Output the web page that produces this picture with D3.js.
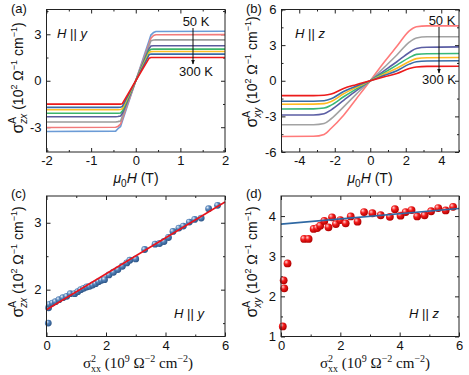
<!DOCTYPE html>
<html>
<head>
<meta charset="utf-8">
<script src="https://cdn.jsdelivr.net/npm/d3@7"></script>
<style>
  body { margin: 0; background: #fff; }
  text { font-family: "Liberation Sans", Arial, sans-serif; fill: #111; }
  .tick text { font-family: "Liberation Sans", Arial, sans-serif; font-size: 13px; fill: #111; }
  .tick line { stroke: #222; }
</style>
</head>
<body>
<div id="chart"></div>
<script>
// ---- data ----
// (a) sigma_zx^A vs mu0H, H || y, 50 K (top) ... 300 K (bottom)
var aField = [-2, -0.45, -0.4, -0.34, -0.3, 0, 0.3, 0.34, 0.4, 0.45, 2];
var aBlue   = [-3.28, -3.25, -3.1, -2.95, -2.6, 0, 2.6, 2.95, 3.12, 3.18, 3.2];
var aPink   = [-3.02, -3.0, -2.95, -2.8, -2.45, 0, 2.4, 2.75, 2.93, 2.97, 2.98];
var aGray   = [-2.66, -2.66, -2.64, -2.6, -2.3, 0, 2.28, 2.58, 2.63, 2.64, 2.64];
var aPurple = [-2.32, -2.32, -2.31, -2.28, -2.1, 0, 2.08, 2.24, 2.26, 2.26, 2.26];
var aGreen  = [-2.1, -2.1, -2.1, -2.08, -1.95, 0, 1.95, 2.03, 2.04, 2.04, 2.04];
var aOrange = [-1.87, -1.87, -1.87, -1.86, -1.8, 0, 1.82, 1.88, 1.89, 1.89, 1.89];
var aSteel  = [-1.72, -1.72, -1.72, -1.71, -1.66, 0, 1.68, 1.72, 1.72, 1.72, 1.72];
var aRed    = [-1.51, -1.51, -1.51, -1.51, -1.48, 0, 1.46, 1.5, 1.5, 1.5, 1.5];
var aCurves = [aBlue, aPink, aGray, aPurple, aGreen, aOrange, aSteel, aRed];
var aColors = ["#6b9bd6", "#f27a7a", "#9c9c9c", "#5b5b9c", "#3cb56a", "#ffbf24", "#3a6ca6", "#ec1b1b"];

// (b) sigma_xy^A vs mu0H, H || z
var bField = [-5, -3.2, -2.6, -2.2, -1.5, -0.8, 0, 0.8, 1.5, 2.2, 2.6, 3.2, 5];
var bPink   = [-4.7, -4.68, -4.52, -4.0, -2.9, -1.55, 0, 1.6, 2.9, 4.2, 4.55, 4.62, 4.62];
var bGray   = [-3.71, -3.7, -3.6, -3.2, -2.2, -1.15, 0, 1.15, 2.17, 3.25, 3.6, 3.7, 3.71];
var bPurple = [-2.89, -2.88, -2.78, -2.45, -1.65, -0.85, 0, 0.85, 1.6, 2.38, 2.72, 2.82, 2.85];
var bGreen  = [-2.38, -2.37, -2.3, -2.05, -1.35, -0.7, 0, 0.7, 1.32, 1.95, 2.22, 2.28, 2.3];
var bOrange = [-1.98, -1.97, -1.93, -1.75, -1.1, -0.57, 0, 0.57, 1.05, 1.62, 1.86, 1.94, 1.96];
var bSteel  = [-1.73, -1.72, -1.68, -1.52, -0.9, -0.46, 0, 0.46, 0.85, 1.4, 1.6, 1.66, 1.68];
var bRed    = [-1.25, -1.25, -1.22, -1.12, -0.65, -0.33, 0, 0.33, 0.62, 1.03, 1.16, 1.21, 1.22];
var bCurves = [bPink, bGray, bPurple, bGreen, bOrange, bSteel, bRed];
var bColors = ["#ff7a7a", "#a3a3a3", "#5b5ea4", "#38b877", "#ffbb22", "#3a6ca6", "#ec1b1b"];

// (c) sigma_zx^A vs sigma_xx^2
var cX = [0.06, 0.07, 0.1, 0.2, 0.3, 0.42, 0.55, 0.68, 0.8, 0.95, 1.05, 1.15, 1.25, 1.35, 1.45, 1.55, 1.65, 1.75, 1.85, 1.95,
          2.1, 2.25, 2.4, 2.55, 2.7, 2.8, 3.0, 3.3, 3.65, 3.8, 3.95, 4.1, 4.25, 4.45, 4.6, 4.8, 4.98, 5.2, 5.45, 5.75];
var cY = [1.5, 1.73, 1.78, 1.8, 1.82, 1.85, 1.88, 1.9, 1.94, 1.94, 1.97, 2.0, 2.02, 2.04, 2.05, 2.07, 2.09, 2.12, 2.14, 2.15,
          2.22, 2.26, 2.3, 2.35, 2.4, 2.44, 2.46, 2.6, 2.68, 2.69, 2.72, 2.78, 2.87, 2.92, 2.95, 3.01, 3.05, 3.07, 3.21, 3.26];
var cFitX = [0, 6], cFitY = [1.7, 3.31];

// (d) sigma_xy^A vs sigma_xx^2
var dX = [0.06, 0.09, 0.11, 0.22, 0.78, 0.93, 1.1, 1.22, 1.32, 1.46, 1.6, 1.72, 1.85, 2.0, 2.18, 2.35, 2.58, 2.8, 3.08, 3.36,
          3.67, 3.84, 4.03, 4.2, 4.4, 4.59, 4.84, 5.06, 5.3, 5.55, 5.8];
var dY = [1.25, 2.4, 2.2, 2.82, 3.43, 3.43, 3.68, 3.7, 3.76, 3.88, 3.72, 3.97, 3.8, 3.9, 3.82, 3.99, 3.86, 4.1, 4.07, 4.02,
          3.98, 4.17, 4.01, 4.1, 4.15, 3.99, 4.02, 4.12, 4.2, 4.14, 4.23];
var dFitX = [0, 6], dFitY = [3.8, 4.19];

// ---- layout ----
var width = 469, height = 375;
var svg = d3.select("#chart").append("svg")
    .attr("width", width)
    .attr("height", height);

var defs = svg.append("defs");
function sphere(id, hi, mid, lo) {
  var g = defs.append("radialGradient").attr("id", id)
      .attr("cx", "40%").attr("cy", "38%").attr("r", "62%").attr("fx", "32%").attr("fy", "30%");
  g.append("stop").attr("offset", "0%").attr("stop-color", hi);
  g.append("stop").attr("offset", "45%").attr("stop-color", mid);
  g.append("stop").attr("offset", "100%").attr("stop-color", lo);
}
sphere("blueBall", "#e4eef8", "#5584bb", "#2c5587");
sphere("redBall", "#ffd2d2", "#f41c1c", "#b00000");

defs.append("marker").attr("id", "arrow")
    .attr("viewBox", "0 0 10 10").attr("refX", 9).attr("refY", 5)
    .attr("markerWidth", 5).attr("markerHeight", 6).attr("orient", "auto")
  .append("path").attr("d", "M0,1L10,5L0,9Z").attr("fill", "#111");

// rich text with sub/superscripts, laid out by measuring each run
function rich(g, parts, base, fam) {
  var x = 0, prevX = 0;
  parts.forEach(function(p) {
    if (typeof p === "string") p = {t: p};
    var sx = p.back ? prevX : x;
    var t = g.append("text")
        .attr("x", sx).attr("y", p.dy || 0)
        .style("font-size", (p.fs || base) + "px")
        .style("font-style", p.it ? "italic" : "normal")
        .text(p.t);
    if (fam) t.style("font-family", fam);
    var w = t.node().getComputedTextLength();
    prevX = sx;
    x = Math.max(x, sx + w);
  });
  return x;
}
function label(parts, cx, cy, base, rotate, fam) {
  var outer = svg.append("g")
      .attr("transform", "translate(" + cx + "," + cy + ")" + (rotate ? " rotate(-90)" : ""));
  var inner = outer.append("g");
  var w = rich(inner, parts, base, fam);
  inner.attr("transform", "translate(" + (-w / 2) + ",0)");
}

function panel(box, xd, yd, xMaj, xMin, yMaj, yMin) {
  var x = d3.scaleLinear().domain(xd).range([box.l, box.r]);
  var y = d3.scaleLinear().domain(yd).range([box.b, box.t]);
  var g = svg.append("g");
  var h = box.b - box.t;
  g.append("g").attr("transform", "translate(0," + box.b + ")")
      .call(d3.axisBottom(x).tickValues(xMaj).tickSize(-4).tickPadding(4).tickFormat(d3.format("d")));
  g.append("g").attr("transform", "translate(0," + box.b + ")")
      .call(d3.axisBottom(x).tickValues(xMin).tickSize(-2).tickFormat(""));
  g.append("g").attr("transform", "translate(0," + box.t + ")")
      .call(d3.axisTop(x).tickValues(xMaj).tickSize(-4).tickFormat(""));
  g.append("g").attr("transform", "translate(0," + box.t + ")")
      .call(d3.axisTop(x).tickValues(xMin).tickSize(-2).tickFormat(""));
  g.append("g").attr("transform", "translate(" + box.l + ",0)")
      .call(d3.axisLeft(y).tickValues(yMaj).tickSize(-4).tickPadding(5).tickFormat(d3.format("d")));
  g.append("g").attr("transform", "translate(" + box.l + ",0)")
      .call(d3.axisLeft(y).tickValues(yMin).tickSize(-2).tickFormat(""));
  g.append("g").attr("transform", "translate(" + box.r + ",0)")
      .call(d3.axisRight(y).tickValues(yMaj).tickSize(-4).tickFormat(""));
  g.append("g").attr("transform", "translate(" + box.r + ",0)")
      .call(d3.axisRight(y).tickValues(yMin).tickSize(-2).tickFormat(""));
  g.selectAll(".domain").remove();
  g.selectAll(".tick text").text(function() { return this.textContent.replace("−", "-"); });
  var plot = svg.append("g");
  svg.append("rect").attr("x", box.l).attr("y", box.t)
      .attr("width", box.r - box.l).attr("height", h)
      .attr("fill", "none").attr("stroke", "#222").attr("stroke-width", 1);
  return {x: x, y: y, g: plot};
}

// ---- (a) ----
var pa = panel({l: 46.5, r: 225, t: 9.5, b: 152}, [-2, 2], [-4.6, 4.6],
    [-2, -1, 0, 1, 2], [-1.5, -0.5, 0.5, 1.5], [-3, 0, 3], [-4.5, -1.5, 1.5, 4.5]);
var lineA = d3.line().x(function(d, i) { return pa.x(aField[i]); }).y(function(d) { return pa.y(d); });
pa.g.selectAll("path").data(aCurves).enter().append("path")
    .attr("d", lineA).attr("fill", "none")
    .attr("stroke", function(d, i) { return aColors[i]; })
    .attr("stroke-width", 1.6);

// ---- (b) ----
var pb = panel({l: 281.5, r: 459, t: 9.5, b: 152}, [-5, 5], [-6, 6],
    [-4, -2, 0, 2, 4], [-5, -3, -1, 1, 3, 5], [-6, -3, 0, 3, 6], [-4.5, -1.5, 1.5, 4.5]);
var lineB = d3.line().curve(d3.curveMonotoneX)
    .x(function(d, i) { return pb.x(bField[i]); }).y(function(d) { return pb.y(d); });
pb.g.selectAll("path").data(bCurves).enter().append("path")
    .attr("d", lineB).attr("fill", "none")
    .attr("stroke", function(d, i) { return bColors[i]; })
    .attr("stroke-width", 1.6);

// ---- (c) ----
var pc = panel({l: 46.5, r: 225, t: 196, b: 336.5}, [0, 6], [1.3, 3.4],
    [0, 2, 4, 6], [1, 3, 5], [2, 3], [1.5, 2.5]);
pc.g.selectAll("circle").data(cX).enter().append("circle")
    .attr("cx", function(d) { return pc.x(d); })
    .attr("cy", function(d, i) { return pc.y(cY[i]); })
    .attr("r", 3.4).attr("fill", "url(#blueBall)");
pc.g.append("line")
    .attr("x1", pc.x(cFitX[0])).attr("y1", pc.y(cFitY[0]))
    .attr("x2", pc.x(cFitX[1])).attr("y2", pc.y(cFitY[1]))
    .attr("stroke", "#e8141c").attr("stroke-width", 1.6);

// ---- (d) ----
var pd = panel({l: 281, r: 459, t: 196, b: 336.5}, [0, 6], [1, 4.5],
    [0, 2, 4, 6], [1, 3, 5], [1, 2, 3, 4], [1.5, 2.5, 3.5]);
pd.g.selectAll("circle").data(dX).enter().append("circle")
    .attr("cx", function(d) { return pd.x(d); })
    .attr("cy", function(d, i) { return pd.y(dY[i]); })
    .attr("r", 3.9).attr("fill", "url(#redBall)");
pd.g.append("line")
    .attr("x1", pd.x(dFitX[0])).attr("y1", pd.y(dFitY[0]))
    .attr("x2", pd.x(dFitX[1])).attr("y2", pd.y(dFitY[1]))
    .attr("stroke", "#2f68a3").attr("stroke-width", 1.6);

// ---- panel letters ----
[["(a)", 11, 13], ["(b)", 246, 13], ["(c)", 11, 198], ["(d)", 246, 198]].forEach(function(p) {
  svg.append("text").attr("x", p[1]).attr("y", p[2]).style("font-size", "13px").text(p[0]);
});

// ---- field direction notes ----
label([{t: "H", it: true}, "\u00a0||\u00a0", {t: "y", it: true}], 72, 38, 13);
label([{t: "H", it: true}, "\u00a0||\u00a0", {t: "z", it: true}], 310, 38, 13);
label([{t: "H", it: true}, "\u00a0||\u00a0", {t: "y", it: true}], 189, 318, 13);
label([{t: "H", it: true}, "\u00a0||\u00a0", {t: "z", it: true}], 424, 318, 13);

// ---- temperature arrows ----
label(["50 K"], 196, 26, 13);
label(["300 K"], 196, 76, 13);
svg.append("line").attr("x1", 193).attr("y1", 28).attr("x2", 193).attr("y2", 64)
    .attr("stroke", "#111").attr("stroke-width", 1).attr("marker-end", "url(#arrow)");
label(["50 K"], 442, 25, 13);
label(["300 K"], 439, 84, 13);
svg.append("line").attr("x1", 439).attr("y1", 27).attr("x2", 439).attr("y2", 73)
    .attr("stroke", "#111").attr("stroke-width", 1).attr("marker-end", "url(#arrow)");

// ---- axis titles ----
var muH = [{t: "\u03bc", it: true}, {t: "0", fs: 10, dy: 4}, {t: "H", it: true}, "\u00a0(T)"];
label(muH, 136, 183, 14);
label(muH, 370, 183, 14);

function sigLabel(sub) {
  return [{t: "\u03c3", fs: 16}, {t: "A", fs: 10, dy: -7}, {t: sub, fs: 10, dy: 4, it: true, back: true},
          "\u00a0(10", {t: "2", fs: 9, dy: -6}, "\u00a0\u03a9", {t: "\u22121", fs: 9, dy: -6},
          "\u00a0cm", {t: "\u22121", fs: 9, dy: -6}, ")"];
}
label(sigLabel("zx"), 23, 78, 14, true);
label(sigLabel("xy"), 257, 72, 14, true);
label(sigLabel("zx"), 23, 262, 14, true);
label(sigLabel("xy"), 257, 262, 14, true);

var serif = "'Liberation Serif', 'Times New Roman', serif";
var sxx = [{t: "\u03c3", fs: 15}, {t: "2", fs: 10, dy: -6}, {t: "xx", fs: 10, dy: 4, back: true},
           "\u00a0(10", {t: "9", fs: 10, dy: -6}, "\u00a0\u03a9", {t: "\u22122", fs: 10, dy: -6},
           "\u00a0cm", {t: "\u22122", fs: 10, dy: -6}, ")"];
label(sxx, 138, 368, 15, false, serif);
label(sxx, 375, 368, 15, false, serif);
</script>
</body>
</html>
